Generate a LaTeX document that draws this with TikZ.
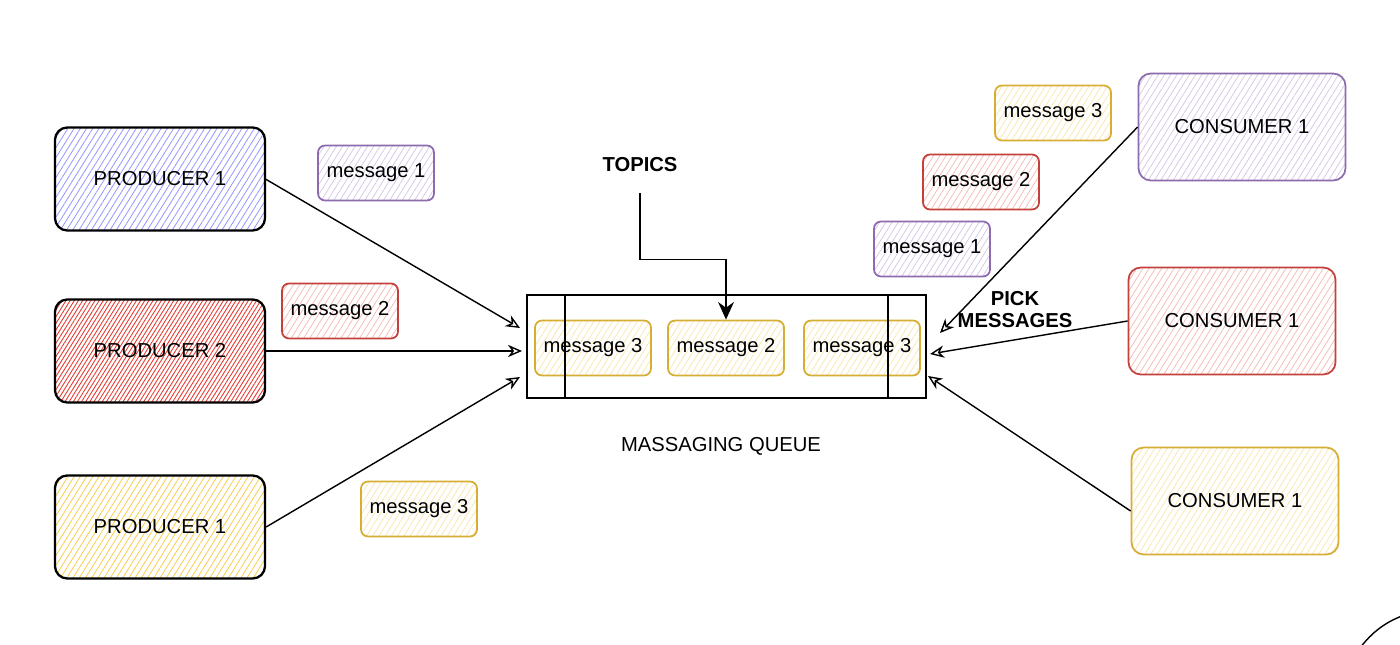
\documentclass[tikz,border=0pt]{standalone}
\usepackage{fontspec}
\setmainfont{Liberation Sans}
\usetikzlibrary{patterns.meta,arrows.meta}

\definecolor{hblue}{HTML}{9494FF}
\definecolor{hred}{HTML}{E5382E}
\definecolor{hyellow}{HTML}{F7CD4A}
\definecolor{spurple}{HTML}{8E6BAE}
\definecolor{lpurple}{HTML}{D6C9E8}
\definecolor{sred}{HTML}{C4403A}
\definecolor{lred}{HTML}{F5BDBB}
\definecolor{syellow}{HTML}{D6AE34}
\definecolor{lyellow}{HTML}{F9E7B2}

\begin{document}
\begin{tikzpicture}[x=0.2mm,y=-0.2mm]
        \tikzstyle{every node}=[font=\fontsize{11.5}{13.5}\selectfont, text=black]
        \tikzstyle{hatch}=[pattern={Lines[angle=58,distance=3pt,line width=0.45pt]}, pattern color=#1]
        \tikzstyle{prod}=[rectangle, rounded corners=7pt, draw=black, line width=1.3pt, minimum width=42mm, minimum height=20.6mm]
        \tikzstyle{cons}=[rectangle, rounded corners=7pt, line width=1pt, minimum width=41.4mm, minimum height=21.4mm]
        \tikzstyle{msg}=[rectangle, rounded corners=4pt, line width=1pt, minimum width=23.2mm, minimum height=11mm]
        \tikzstyle{edge}=[black, line width=0.8pt, -{Stealth[open,length=8pt,width=7pt,inset=2.5pt]}]

        \useasboundingbox (0,0) rectangle (1400,645);

        % producers
        \node[prod, hatch=hblue] (p1) at (160,179) {PRODUCER 1};
        \node[prod, pattern={Lines[angle=58,distance=2pt,line width=0.5pt]}, pattern color=hred] (p2) at (160,351) {PRODUCER 2};
        \node[prod, hatch=hyellow] (p3) at (160,527) {PRODUCER 1};

        \node[msg, draw=spurple, hatch=lpurple] (pm1) at (376,173) {message 1};
        \node[msg, draw=sred, hatch=lred]       (pm2) at (340,311) {message 2};
        \node[msg, draw=syellow, hatch=lyellow] (pm3) at (419,509) {message 3};

        % queue
        \node[rectangle, draw=black, line width=1pt, minimum width=79.8mm, minimum height=20.6mm] (queue) at (726.5,346.5) {};
        \node[msg, draw=syellow, hatch=lyellow] (qm1) at (593,348) {message 3};
        \node[msg, draw=syellow, hatch=lyellow] (qm2) at (726,348) {message 2};
        \node[msg, draw=syellow, hatch=lyellow] (qm3) at (862,348) {message 3};
        \draw[line width=0.8pt] (queue.north west) ++(39,0) -- ++(0,103);
        \draw[line width=0.8pt] (queue.north east) ++(-39,0) -- ++(0,103);
        \node (qlabel) at (721,446) {MASSAGING QUEUE};

        \node[font=\fontsize{11.5}{13.5}\selectfont\bfseries] (topics) at (640,165) {TOPICS};
        \draw[line width=0.8pt, -{Stealth[length=10pt,width=9pt]}] ([yshift=-3mm]topics.south) -- ++(0,66) -| (qm2.north);

        % consumers
        \node[cons, draw=spurple, hatch=lpurple] (c1) at (1242,127) {CONSUMER 1};
        \node[cons, draw=sred, hatch=lred]       (c2) at (1232,321) {CONSUMER 1};
        \node[cons, draw=syellow, hatch=lyellow] (c3) at (1235,501) {CONSUMER 1};

        \node[msg, draw=syellow, hatch=lyellow] (cm3) at (1053,113) {message 3};
        \node[msg, draw=sred, hatch=lred]       (cm2) at (981,182) {message 2};
        \node[msg, draw=spurple, hatch=lpurple] (cm1) at (932,249) {message 1};

        \node[font=\fontsize{11.5}{13.5}\selectfont\bfseries, align=center, inner sep=0pt] (pick) at (1015,310) {PICK\\[-1pt]MESSAGES};

        % connectors
        \coordinate (in1) at (520,328);
        \coordinate (in2) at (522,351);
        \coordinate (in3) at (520,377);
        \coordinate (out1) at (940,333);
        \coordinate (out2) at (930,354);
        \coordinate (out3) at (928,376);

        \draw[edge] (p1.east) -- (in1);
        \draw[edge] (p2.east) -- (in2);
        \draw[edge] (p3.east) -- (in3);
        \draw[edge] (c1.west) -- (out1);
        \draw[edge] (c2.west) -- (out2);
        \draw[edge] ([yshift=-2mm]c3.west) -- (out3);

        \draw[line width=0.8pt] (1360,648) .. controls (1372,632) and (1386,622) .. (1402,616);
    \end{tikzpicture}
\end{document}
